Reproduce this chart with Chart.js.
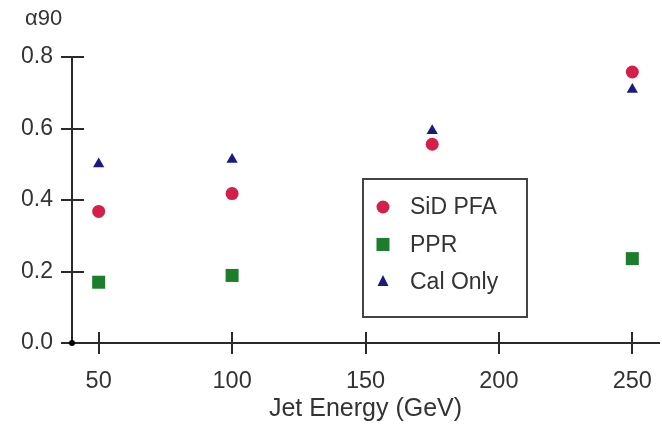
<!DOCTYPE html>
<html>
<head>
<meta charset="utf-8">
<script src="https://cdn.jsdelivr.net/npm/chart.js@4.4.0/dist/chart.umd.min.js"></script>
<style>
    html, body { margin: 0; padding: 0; background: #fff; }
    #wrap { width: 662px; height: 432px; }
</style>
</head>
<body>
<div id="wrap"><canvas id="chart" width="662" height="432"></canvas></div>
<script>
// Data
const sidEnergies = [50, 100, 175, 250];
const sidPfa = [0.368, 0.418, 0.556, 0.758];
const pprEnergies = [50, 100, 250];
const ppr = [0.170, 0.189, 0.236];
const calEnergies = [50, 100, 175, 250];
const calOnly = [0.501, 0.513, 0.594, 0.709];
const xTicks = [50, 100, 150, 200, 250];
const yTicks = [0, 0.2, 0.4, 0.6, 0.8];

const FONT = '"Liberation Sans", Arial, sans-serif';
const AXIS_COLOR = '#2a2a2a';
const TEXT_COLOR = '#333';

const legendItems = [
    { label: 'SiD PFA', color: '#d41f4a', shape: 'circle' },
    { label: 'PPR', color: '#1c7d2c', shape: 'rect' },
    { label: 'Cal Only', color: '#1b1a82', shape: 'triangle' }
];

function toPoints(xs, ys) {
    return xs.map((x, i) => ({ x: x, y: ys[i] }));
}

// Tick marks that cross the axis lines
const crossTicks = {
    id: 'crossTicks',
    afterDraw(chart) {
        const ctx = chart.ctx;
        const area = chart.chartArea;
        const xs = chart.scales.x;
        const ys = chart.scales.y;
        ctx.save();
        ctx.strokeStyle = AXIS_COLOR;
        ctx.lineWidth = 2;
        ctx.beginPath();
        yTicks.forEach(v => {
            const py = Math.round(ys.getPixelForValue(v));
            ctx.moveTo(area.left - 11, py);
            ctx.lineTo(area.left + 12, py);
        });
        xTicks.forEach(v => {
            const px = Math.round(xs.getPixelForValue(v));
            ctx.moveTo(px, area.bottom - 11);
            ctx.lineTo(px, area.bottom + 11);
        });
        ctx.stroke();
        // little dot at the origin
        ctx.fillStyle = '#000';
        ctx.beginPath();
        ctx.arc(area.left, area.bottom, 3, 0, Math.PI * 2);
        ctx.fill();

        // y axis label at the top left
        ctx.fillStyle = TEXT_COLOR;
        ctx.font = '22px ' + FONT;
        ctx.textBaseline = 'middle';
        ctx.textAlign = 'left';
        ctx.fillText('α90', 25, 19);
        ctx.restore();
    }
};

// Boxed legend inside the plot
const boxLegend = {
    id: 'boxLegend',
    afterDraw(chart) {
        const ctx = chart.ctx;
        const xs = chart.scales.x;
        const ys = chart.scales.y;
        const left = Math.round(xs.getPixelForValue(149.2));
        const right = Math.round(xs.getPixelForValue(210.6));
        const top = Math.round(ys.getPixelForValue(0.46));
        const bottom = Math.round(ys.getPixelForValue(0.073));
        ctx.save();
        ctx.strokeStyle = '#444';
        ctx.lineWidth = 2;
        ctx.strokeRect(left, top, right - left, bottom - top);
        ctx.font = '23px ' + FONT;
        ctx.textBaseline = 'middle';
        ctx.textAlign = 'left';
        legendItems.forEach((item, i) => {
            const cy = top + 28 + i * 37.5;
            const cx = left + 20;
            ctx.fillStyle = item.color;
            ctx.beginPath();
            if (item.shape === 'circle') {
                ctx.arc(cx, cy, 6.5, 0, Math.PI * 2);
            } else if (item.shape === 'rect') {
                ctx.rect(cx - 6.5, cy - 6.5, 13, 13);
            } else {
                ctx.moveTo(cx, cy - 7);
                ctx.lineTo(cx + 5.5, cy + 4);
                ctx.lineTo(cx - 5.5, cy + 4);
                ctx.closePath();
            }
            ctx.fill();
            ctx.fillStyle = TEXT_COLOR;
            ctx.fillText(item.label, left + 47, cy + 1);
        });
        ctx.restore();
    }
};

new Chart(document.getElementById('chart'), {
    type: 'scatter',
    data: {
        datasets: [
            {
                label: legendItems[0].label,
                data: toPoints(sidEnergies, sidPfa),
                pointStyle: 'circle',
                pointRadius: 6.5,
                backgroundColor: legendItems[0].color,
                borderColor: legendItems[0].color,
                borderWidth: 0
            },
            {
                label: legendItems[1].label,
                data: toPoints(pprEnergies, ppr),
                pointStyle: 'rect',
                pointRadius: 9.2,
                backgroundColor: legendItems[1].color,
                borderColor: legendItems[1].color,
                borderWidth: 0
            },
            {
                label: legendItems[2].label,
                data: toPoints(calEnergies, calOnly),
                pointStyle: 'triangle',
                pointRadius: 6.5,
                backgroundColor: legendItems[2].color,
                borderColor: legendItems[2].color,
                borderWidth: 0
            }
        ]
    },
    options: {
        responsive: false,
        animation: false,
        layout: {
            autoPadding: false,
            padding: { left: 0, top: 57, right: 3, bottom: 0 }
        },
        plugins: {
            legend: { display: false },
            title: { display: false },
            tooltip: { enabled: false }
        },
        scales: {
            x: {
                type: 'linear',
                min: 40,
                max: 260,
                afterFit: scale => {
                    scale.height = 89;
                    scale.paddingLeft = 0;
                    scale.paddingRight = 0;
                },
                afterBuildTicks: scale => {
                    scale.ticks = xTicks.map(v => ({ value: v }));
                },
                grid: { display: false, drawTicks: false },
                border: { display: true, color: AXIS_COLOR, width: 2 },
                ticks: {
                    padding: 24,
                    color: TEXT_COLOR,
                    font: { family: FONT, size: 23.5 },
                    maxRotation: 0
                },
                title: {
                    display: true,
                    text: 'Jet Energy (GeV)',
                    color: TEXT_COLOR,
                    font: { family: FONT, size: 25 },
                    padding: { top: 0, bottom: 8 }
                }
            },
            y: {
                type: 'linear',
                min: 0,
                max: 0.8,
                afterFit: scale => {
                    scale.width = 72;
                    scale.paddingTop = 0;
                    scale.paddingBottom = 0;
                },
                afterBuildTicks: scale => {
                    scale.ticks = yTicks.map(v => ({ value: v }));
                },
                grid: { display: false, drawTicks: false },
                border: { display: true, color: AXIS_COLOR, width: 2 },
                ticks: {
                    padding: 19,
                    color: TEXT_COLOR,
                    font: { family: FONT, size: 23 },
                    callback: v => v.toFixed(1)
                }
            }
        }
    },
    plugins: [crossTicks, boxLegend]
});
</script>
</body>
</html>
